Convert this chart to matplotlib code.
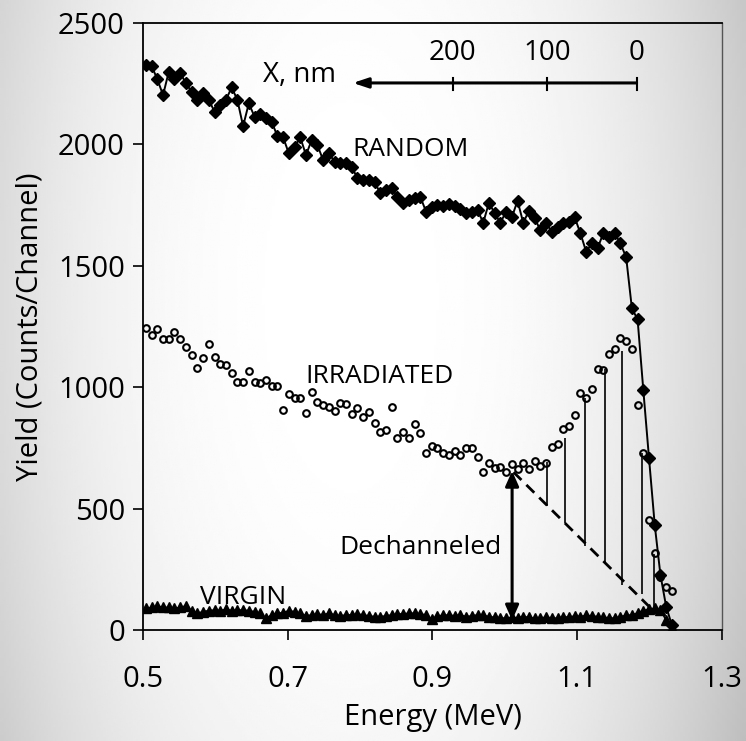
import numpy as np
import matplotlib.pyplot as plt

plt.rcParams['font.family'] = ['Open Sans', 'DejaVu Sans']

# channel energies, MeV (first channel and channel width)
e_start = 0.504
e_step = 0.0079

random_yield = [2327, 2323, 2268, 2203, 2299, 2268, 2295, 2251, 2217, 2183,
                2210, 2183, 2135, 2162, 2183, 2235, 2183, 2075, 2169, 2114,
                2125, 2107, 2093, 2034, 2029, 1963, 1990, 2029, 1956, 2018,
                1997, 1935, 1963, 1929, 1922, 1924, 1908, 1860, 1853, 1853,
                1846, 1798, 1812, 1819, 1784, 1757, 1771, 1778, 1784, 1723,
                1743, 1750, 1746, 1754, 1746, 1732, 1716, 1723, 1730, 1677,
                1760, 1716, 1677, 1723, 1699, 1768, 1677, 1727, 1695, 1647,
                1675, 1640, 1661, 1675, 1682, 1699, 1634, 1558, 1592, 1572,
                1634, 1620, 1634, 1592, 1535, 1325, 1279, 988, 707, 432,
                226, 96, 20]

irradiated_yield = [1242, 1215, 1240, 1197, 1197, 1226, 1198, 1167, 1132, 1078,
                    1119, 1176, 1123, 1094, 1091, 1060, 1023, 1023, 1068, 1023,
                    1018, 1030, 1005, 1005, 906, 972, 954, 954, 892, 979,
                    940, 927, 920, 903, 933, 929, 889, 916, 876, 899,
                    851, 817, 824, 917, 789, 817, 792, 847, 813, 730,
                    758, 748, 730, 721, 738, 721, 748, 748, 714, 649,
                    689, 668, 673, 652, 684, 662, 689, 662, 697, 675,
                    689, 755, 765, 828, 840, 885, 977, 957, 994, 1073,
                    1071, 1135, 1156, 1201, 1191, 1156, 927, 727, 453, 316,
                    220, 178, 160]

virgin_yield = [89, 93, 99, 93, 93, 89, 93, 99, 80, 69,
                75, 80, 82, 80, 85, 80, 82, 82, 80, 75,
                69, 48, 62, 69, 71, 80, 75, 69, 58, 62,
                66, 62, 69, 62, 58, 62, 62, 66, 62, 58,
                55, 55, 58, 62, 66, 66, 69, 69, 66, 62,
                44, 58, 60, 62, 58, 62, 55, 58, 62, 60,
                55, 52, 50, 48, 52, 50, 55, 52, 48, 50,
                52, 50, 48, 55, 52, 58, 55, 60, 58, 55,
                52, 50, 48, 55, 60, 62, 70, 80, 85, 90,
                82, 40, 10]

# dechanneling background (dashed) and the hatch lines down to it
dash_e = [1.012, 1.205]
dash_y = [650, 80]
hatch_e = [1.058, 1.083, 1.111, 1.138, 1.162, 1.190, 1.206]
hatch_top = [690, 790, 955, 1075, 1150, 730, 315]
hatch_bottom = [510, 440, 345, 280, 185, 150, 90]

# depth scale drawn inside the plot
depth_labels = ['200', '100', '0']
depth_e = [0.928, 1.058, 1.182]
depth_arrow_tip = 0.790
depth_y = 2253

energy = e_start + e_step * np.arange(len(random_yield))

fig = plt.figure(figsize=(7.46, 7.41), dpi=100)

# grey gradient backdrop
bg = fig.add_axes([0, 0, 1, 1], zorder=-1)
gx, gy = np.meshgrid(np.linspace(0, 1, 300), np.linspace(0, 1, 300))
r = ((gx - 0.47) / 0.58) ** 2 + ((gy - 0.6) / 1.3) ** 2
shade = 1 - 0.24 * np.clip(r, 0, 1.3) ** 1.3
bg.imshow(shade, cmap='gray', vmin=0, vmax=1, extent=[0, 1, 0, 1],
          aspect='auto', origin='lower')
bg.axis('off')

ax = fig.add_axes([0.1917, 0.1498, 0.7761, 0.8192])
ax.set_facecolor('none')

ax.plot(energy, virgin_yield, color='black', lw=1.2, marker='^', ms=6.5,
        mfc='black', mec='black', zorder=3)
ax.plot(energy, irradiated_yield, ls='none', marker='o', ms=4.8,
        mfc='none', mec='black', mew=1.5, zorder=3)
ax.plot(energy, random_yield, color='black', lw=1.4, marker='D', ms=6.5,
        mfc='black', mec='black', zorder=4)

ax.plot(dash_e, dash_y, color='black', lw=2, ls=(0, (4, 2.5)), zorder=2)
ax.vlines(hatch_e, hatch_bottom, hatch_top, color='black', lw=1.2, zorder=2)

ax.annotate('', xy=(1.01, 655), xytext=(1.01, 40),
            arrowprops=dict(arrowstyle='<|-|>,head_length=0.9,head_width=0.4',
                            lw=2.2, color='black', shrinkA=0, shrinkB=0))

# depth axis
ax.annotate('', xy=(depth_arrow_tip, depth_y), xytext=(depth_e[-1], depth_y),
            arrowprops=dict(arrowstyle='-|>,head_length=0.9,head_width=0.3',
                            lw=2.2, color='black', shrinkA=0, shrinkB=0))
for e, lab in zip(depth_e, depth_labels):
    ax.plot([e, e], [depth_y - 28, depth_y + 22], color='black', lw=1.5)
    ax.text(e, 2376, lab, ha='center', va='center', fontsize=20)
ax.text(0.666, 2285, 'X, nm', ha='left', va='center', fontsize=20)

ax.text(0.789, 1977, 'RANDOM', ha='left', va='center', fontsize=19)
ax.text(0.724, 1046, 'IRRADIATED', ha='left', va='center', fontsize=19)
ax.text(0.771, 338, 'Dechanneled', ha='left', va='center', fontsize=19)
ax.text(0.579, 132, 'VIRGIN', ha='left', va='center', fontsize=19)

ax.set_xlim(0.5, 1.3)
ax.set_ylim(0, 2500)
ax.set_xticks([0.5, 0.7, 0.9, 1.1, 1.3])
ax.set_xticklabels(['0.5', '0.7', '0.9', '1.1', '1.3'])
ax.set_yticks([0, 500, 1000, 1500, 2000, 2500])
ax.tick_params(direction='out', length=7, width=1.2, labelsize=21)
ax.tick_params(axis='x', pad=18)
ax.tick_params(axis='y', pad=6)
for side in ['left', 'bottom', 'top']:
    ax.spines[side].set_linewidth(1.3)
ax.spines['right'].set_linewidth(1)
ax.spines['right'].set_color('#555555')

ax.set_xlabel('Energy (MeV)', fontsize=21, labelpad=7)
ax.set_ylabel('Yield (Counts/Channel)', fontsize=21, labelpad=10)

fig.savefig('out.png', dpi=100)
